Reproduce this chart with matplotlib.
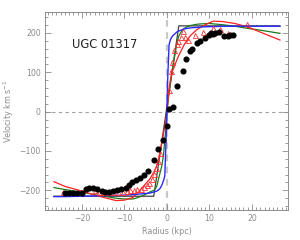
import matplotlib
matplotlib.use("Agg")
import matplotlib.pyplot as plt
from matplotlib.ticker import MultipleLocator

# Observed rotation curve (black dots)
obs_r = [-24.0, -23.1, -22.0, -21.1, -20.1, -19.1, -18.3, -17.3, -16.4, -15.4, -14.6, -13.6,
         -12.6, -11.7, -10.7, -9.7, -9.0, -8.2, -7.3, -6.4, -5.4, -4.4, -3.1, -2.0, -1.0,
         0.1, 0.5, 1.5, 2.4, 3.7, 4.6, 5.4, 5.8, 7.0, 7.9, 8.9, 10.0, 10.3, 10.8, 11.3,
         12.3, 13.4, 14.4, 14.8, 15.5]
obs_v = [-208, -208, -208, -207, -206, -197, -193, -193, -197, -202, -203, -203,
         -202, -200, -197, -193, -187, -180, -175, -168, -160, -150, -122, -95, -71,
         -37, 7, 13, 64, 102, 133, 155, 159, 174, 180, 188, 195, 199, 197, 201,
         203, 193, 192, 196, 196]

# Second data set (red open triangles)
tri_r = [-24.4, -17.0, -16.0, -15.5, -14.8, -13.8, -12.6, -11.5, -10.4, -9.5, -8.7, -7.8,
         -7.0, -6.2, -5.4, -4.8, -4.2, -3.6, -3.1, -2.6, -2.0, -1.6,
         0.5, 0.9, 1.3, 1.7, 2.3, 2.7, 3.3, 3.8, 4.2, 5.0, 6.6, 8.5, 10.9, 12.6, 14.3, 18.8]
tri_v = [-205, -200, -203, -204, -204, -204, -204, -204, -203, -202, -199, -199,
         -197, -196, -192, -187, -181, -172, -159, -143, -126, -105,
         56, 104, 125, 157, 172, 180, 189, 206, 189, 182, 195, 202, 212, 210, 199, 222]

# Model curves
mod_r = [-26.6, -24, -20, -16, -12, -10, -8, -7, -6, -5, -4, -3, -2.4, -2, -1.6, -1.2, -0.8,
         -0.5, -0.2, 0.2, 0.5, 0.9, 1.3, 1.6, 2.0, 2.4, 2.8, 3.6, 4.0, 5.0, 5.6, 7.0, 8.0,
         10.0, 11.0, 13.0, 16.0, 18.8, 22.0, 26.6]
red_v = [-178, -190, -202, -215, -226, -225, -218, -208, -196, -183, -171, -152, -138, -124,
         -105, -79, -55, -38, -20, 20, 59, 85, 104, 110, 122, 133, 143, 160, 169, 186, 194,
         208, 215, 226, 230, 229, 224, 216, 202, 182]
green_v = [-193, -198, -205, -213, -220, -222, -222, -219, -215, -210, -204, -200, -190,
           -172, -155, -138, -110, -71, -40, 20, 50, 76, 108, 127, 152, 177, 192, 207, 211,
           217, 219, 222, 223, 224, 223, 221, 217, 212, 207, 199]
blue_v = [-216, -216, -215, -214, -213, -212, -211, -210, -209, -208, -207, -204, -202,
          -199, -195, -187, -175, -164, -70, 89, 170, 185, 192, 195, 199, 203, 205, 208, 210,
          212, 213, 214, 215, 216, 216, 217, 217, 217, 217, 217]
solid_r = [-26.6, -3.1, 2.8, 26.6]
solid_v = [-215, -215, 218, 218]

label = "UGC 01317"

fig = plt.figure(figsize=(3.0, 2.4), dpi=100)
ax = fig.add_axes([0.15, 0.125, 0.81, 0.823])
grey = "#8c8c8c"

ax.axhline(0, color="#a0a0a0", lw=0.8, ls=(0, (3, 3)), zorder=1)
ax.axvline(0, color="#c8c8c8", lw=1.6, ls=(0, (3, 2.5)), zorder=1)

ax.plot(solid_r, solid_v, color="#404040", lw=0.9, zorder=3)
ax.plot(mod_r, green_v, color="#1a7a1a", lw=0.9, zorder=3)
ax.plot(mod_r, red_v, color="#ff2020", lw=0.9, zorder=3)
ax.plot(mod_r, blue_v, color="#2a2aff", lw=1.0, zorder=4)
ax.plot(tri_r, tri_v, ls="none", marker="^", ms=3.6, mfc="none", mec="#ff3030",
        mew=0.6, zorder=5)
ax.plot(obs_r, obs_v, ls="none", marker="o", ms=3.4, color="black", zorder=6)

ax.text(-22.4, 170, label, fontsize=8.3, color="#222222", va="center", ha="left")

ax.set_xlim(-28.7, 28.5)
ax.set_ylim(-250, 252)
ax.xaxis.set_major_locator(MultipleLocator(10))
ax.xaxis.set_minor_locator(MultipleLocator(1))
ax.yaxis.set_major_locator(MultipleLocator(100))
ax.yaxis.set_minor_locator(MultipleLocator(20))
ax.tick_params(which="both", direction="in", top=True, right=True, color=grey,
               labelcolor=grey, labelsize=5.6, width=0.6, pad=3)
ax.tick_params(which="major", length=4)
ax.tick_params(which="minor", length=2)
for s in ax.spines.values():
    s.set_color(grey)
    s.set_linewidth(0.7)
ax.set_xlabel("Radius (kpc)", fontsize=5.8, color=grey, labelpad=3)
ax.set_ylabel("Velocity km s$^{-1}$", fontsize=5.8, color=grey)
ax.yaxis.set_label_coords(-0.118, 0.5)

fig.savefig("out.png", dpi=100)
